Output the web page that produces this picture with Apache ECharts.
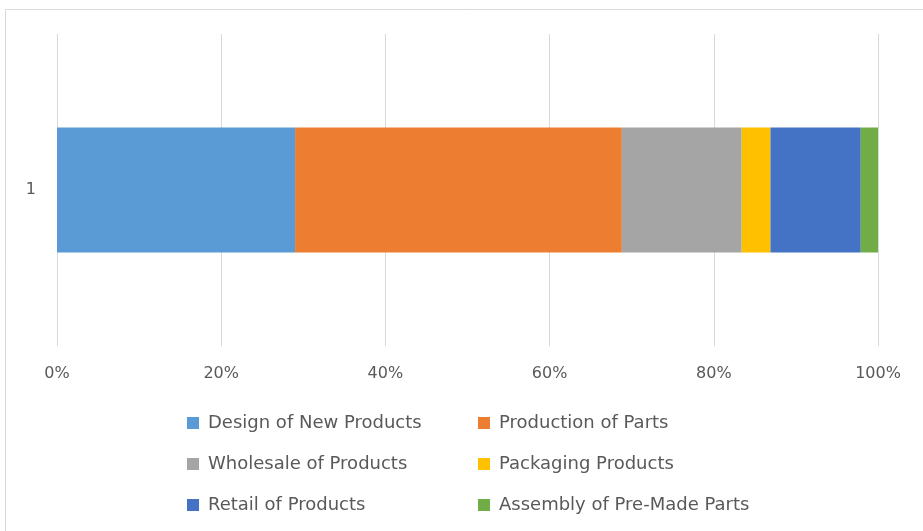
<!DOCTYPE html>
<html><head><meta charset="utf-8">
<script src="https://cdn.jsdelivr.net/npm/echarts@6/dist/echarts.min.js"></script>
<style>html,body{margin:0;padding:0;background:#fff}#c{width:923px;height:531px}</style>
</head><body><div id="c"></div>
<script>
const categories = ['1'];
const seriesNames = ['Design of New Products','Production of Parts','Wholesale of Products','Packaging Products','Retail of Products','Assembly of Pre-Made Parts'];
const seriesValues = [29.0, 39.8, 14.6, 3.5, 11.0, 2.1];
const colors = ['#5B9BD5','#ED7D31','#A5A5A5','#FFC000','#4472C4','#70AD47'];
const tickLabels = ['0%','20%','40%','60%','80%','100%'];

const chart = echarts.init(document.getElementById('c'));
const font = '"DejaVu Sans", sans-serif';
const legText = {color:'#595959', fontSize:18, fontFamily:font, lineHeight:20, padding:[0,0,0,4]};
chart.setOption({
  animation: false,
  color: colors,
  graphic: [{type:'rect', shape:{x:5.5,y:9.5,width:930,height:540}, style:{fill:'none', stroke:'#d9d9d9', lineWidth:1}, silent:true}],
  grid: {left:57, right:45, top:34, bottom:185, containLabel:false},
  xAxis: {type:'value', min:0, max:100, interval:20,
    axisLine:{show:false}, axisTick:{show:false},
    splitLine:{lineStyle:{color:'#d9d9d9', width:1}},
    axisLabel:{color:'#595959', fontSize:16, fontFamily:font, margin:20,
      formatter: v => tickLabels[Math.round(v/20)]}},
  yAxis: {type:'category', data:categories,
    axisLine:{show:false}, axisTick:{show:false},
    axisLabel:{color:'#595959', fontSize:16, fontFamily:font, margin:21}},
  legend: [
    {data:[seriesNames[0],seriesNames[2],seriesNames[4]], orient:'vertical', left:187, top:413, padding:0, itemWidth:12, itemHeight:12, itemGap:21,
     textStyle:legText, icon:'rect'},
    {data:[seriesNames[1],seriesNames[3],seriesNames[5]], orient:'vertical', left:478, top:413, padding:0, itemWidth:12, itemHeight:12, itemGap:21,
     textStyle:legText, icon:'rect'}
  ],
  series: seriesNames.map((n,i)=>({name:n, type:'bar', stack:'a', barWidth:125, data:[seriesValues[i]], itemStyle:{color:colors[i]}}))
});
</script></body></html>
